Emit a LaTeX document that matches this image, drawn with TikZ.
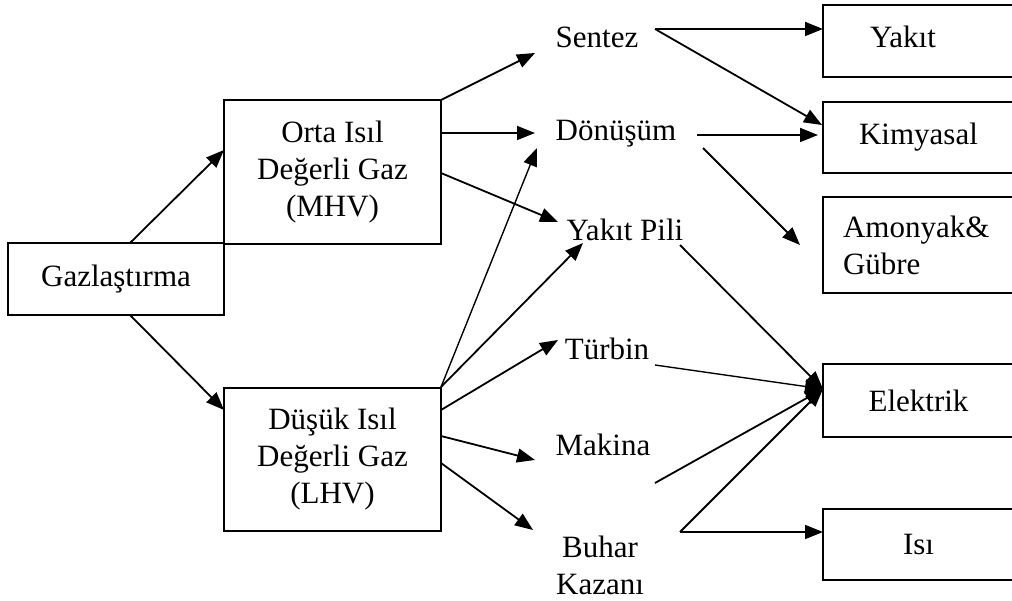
\documentclass[tikz,border=0pt]{standalone}
\usepackage{fontspec}
\setmainfont{Liberation Serif}
\usetikzlibrary{arrows.meta}
\begin{document}
\begin{tikzpicture}[x=1pt,y=-1pt,
  txt/.style={font=\fontsize{31}{37}\selectfont, inner sep=0pt, align=center},
  box/.style={txt, draw, line width=1.4pt},
  arr/.style={line width=1.8pt, -{Triangle[length=18pt,width=14pt]}},
  ln/.style={line width=1.8pt}]
\useasboundingbox (0,0) rectangle (1012,601);
\clip (0,0) rectangle (1012,601);
% boxes
\node[box, minimum width=216, minimum height=72] (gaz) at (116,279) {Gazlaştırma};
\node[box, minimum width=217, minimum height=144] (mhv) at (332.5,172) {Orta Isıl\\Değerli Gaz\\(MHV)};
\node[box, minimum width=217, minimum height=143] (lhv) at (332.5,459.5) {Düşük Isıl\\Değerli Gaz\\(LHV)};
\node[box, minimum width=191, minimum height=72] (yakit) at (918.5,41) {};
\node[txt] (yakitT) at (903,37) {Yakıt};
\node[box, minimum width=191, minimum height=71] (kim) at (918.5,137.5) {Kimyasal};
\node[box, minimum width=191, minimum height=96, text width=151, inner xsep=20pt, align=left] (amo) at (918.5,245) {Amonyak\&\\Gübre};
\node[box, minimum width=191, minimum height=73] (elk) at (918.5,400.5) {Elektrik};
\node[box, minimum width=191, minimum height=71] (isi) at (918.5,544.5) {Isı};
% process labels
\node[txt] (sen) at (597,37) {Sentez};
\node[txt] (don) at (616,134) {Dönüşüm};
\node[txt] (pil) at (625,230) {Yakıt Pili};
\node[txt] (tur) at (607,349) {Türbin};
\node[txt] (mak) at (603,445) {Makina};
\node[txt] (buh) at (600,565) {Buhar\\Kazanı};
% connector points
\coordinate (gN) at (130,243);
\coordinate (gS) at (130,315);
\coordinate (mIn) at (224,150);
\coordinate (lIn) at (224,410);
\coordinate (m1) at (441,100);
\coordinate (m2) at (441,133);
\coordinate (m3) at (441,173);
\coordinate (l1) at (441,387);
\coordinate (l2) at (441,410);
\coordinate (l3) at (441,436);
\coordinate (l4) at (441,463);
\coordinate (senIn) at (535,53);
\coordinate (donIn) at (535,133);
\coordinate (donIn2) at (537,148);
\coordinate (pilIn) at (558,222);
\coordinate (pilIn2) at (583,243);
\coordinate (turIn) at (558,340);
\coordinate (makIn) at (535,460);
\coordinate (buhIn) at (533,530);
\coordinate (senOut) at (655,29);
\coordinate (yakIn) at (823,29);
\coordinate (kimIn) at (822,125);
\coordinate (donOut) at (697,135);
\coordinate (kimIn2) at (818,135);
\coordinate (donOut2) at (703,148);
\coordinate (amoIn) at (800,245);
\coordinate (pilOut) at (680,245);
\coordinate (turOut) at (655,365);
\coordinate (makOut) at (655,483);
\coordinate (buhOut) at (680,532);
\coordinate (elkIn) at (823,389);
\coordinate (isiIn) at (823,532);
% connectors
\draw[arr] (gN) -- (mIn);
\draw[arr] (gS) -- (lIn);
\draw[arr] (m1) -- (senIn);
\draw[arr] (m2) -- (donIn);
\draw[arr] (m3) -- (pilIn);
\draw[arr, line width=1.4pt] (l1) -- (donIn2);
\draw[arr] (l1) -- (pilIn2);
\draw[arr] (l2) -- (turIn);
\draw[arr] (l3) -- (makIn);
\draw[arr] (l4) -- (buhIn);
\draw[arr] (senOut) -- (yakIn);
\draw[arr] (senOut) -- (kimIn);
\draw[arr] (donOut) -- (kimIn2);
\draw[arr] (donOut2) -- (amoIn);
\draw[arr] (pilOut) -- (elkIn);
\draw[arr, line width=1.4pt] (turOut) -- (elkIn);
\draw[arr] (makOut) -- (elkIn);
\draw[arr] (buhOut) -- (elkIn);
\draw[arr] (buhOut) -- (isiIn);
\end{tikzpicture}
\end{document}
